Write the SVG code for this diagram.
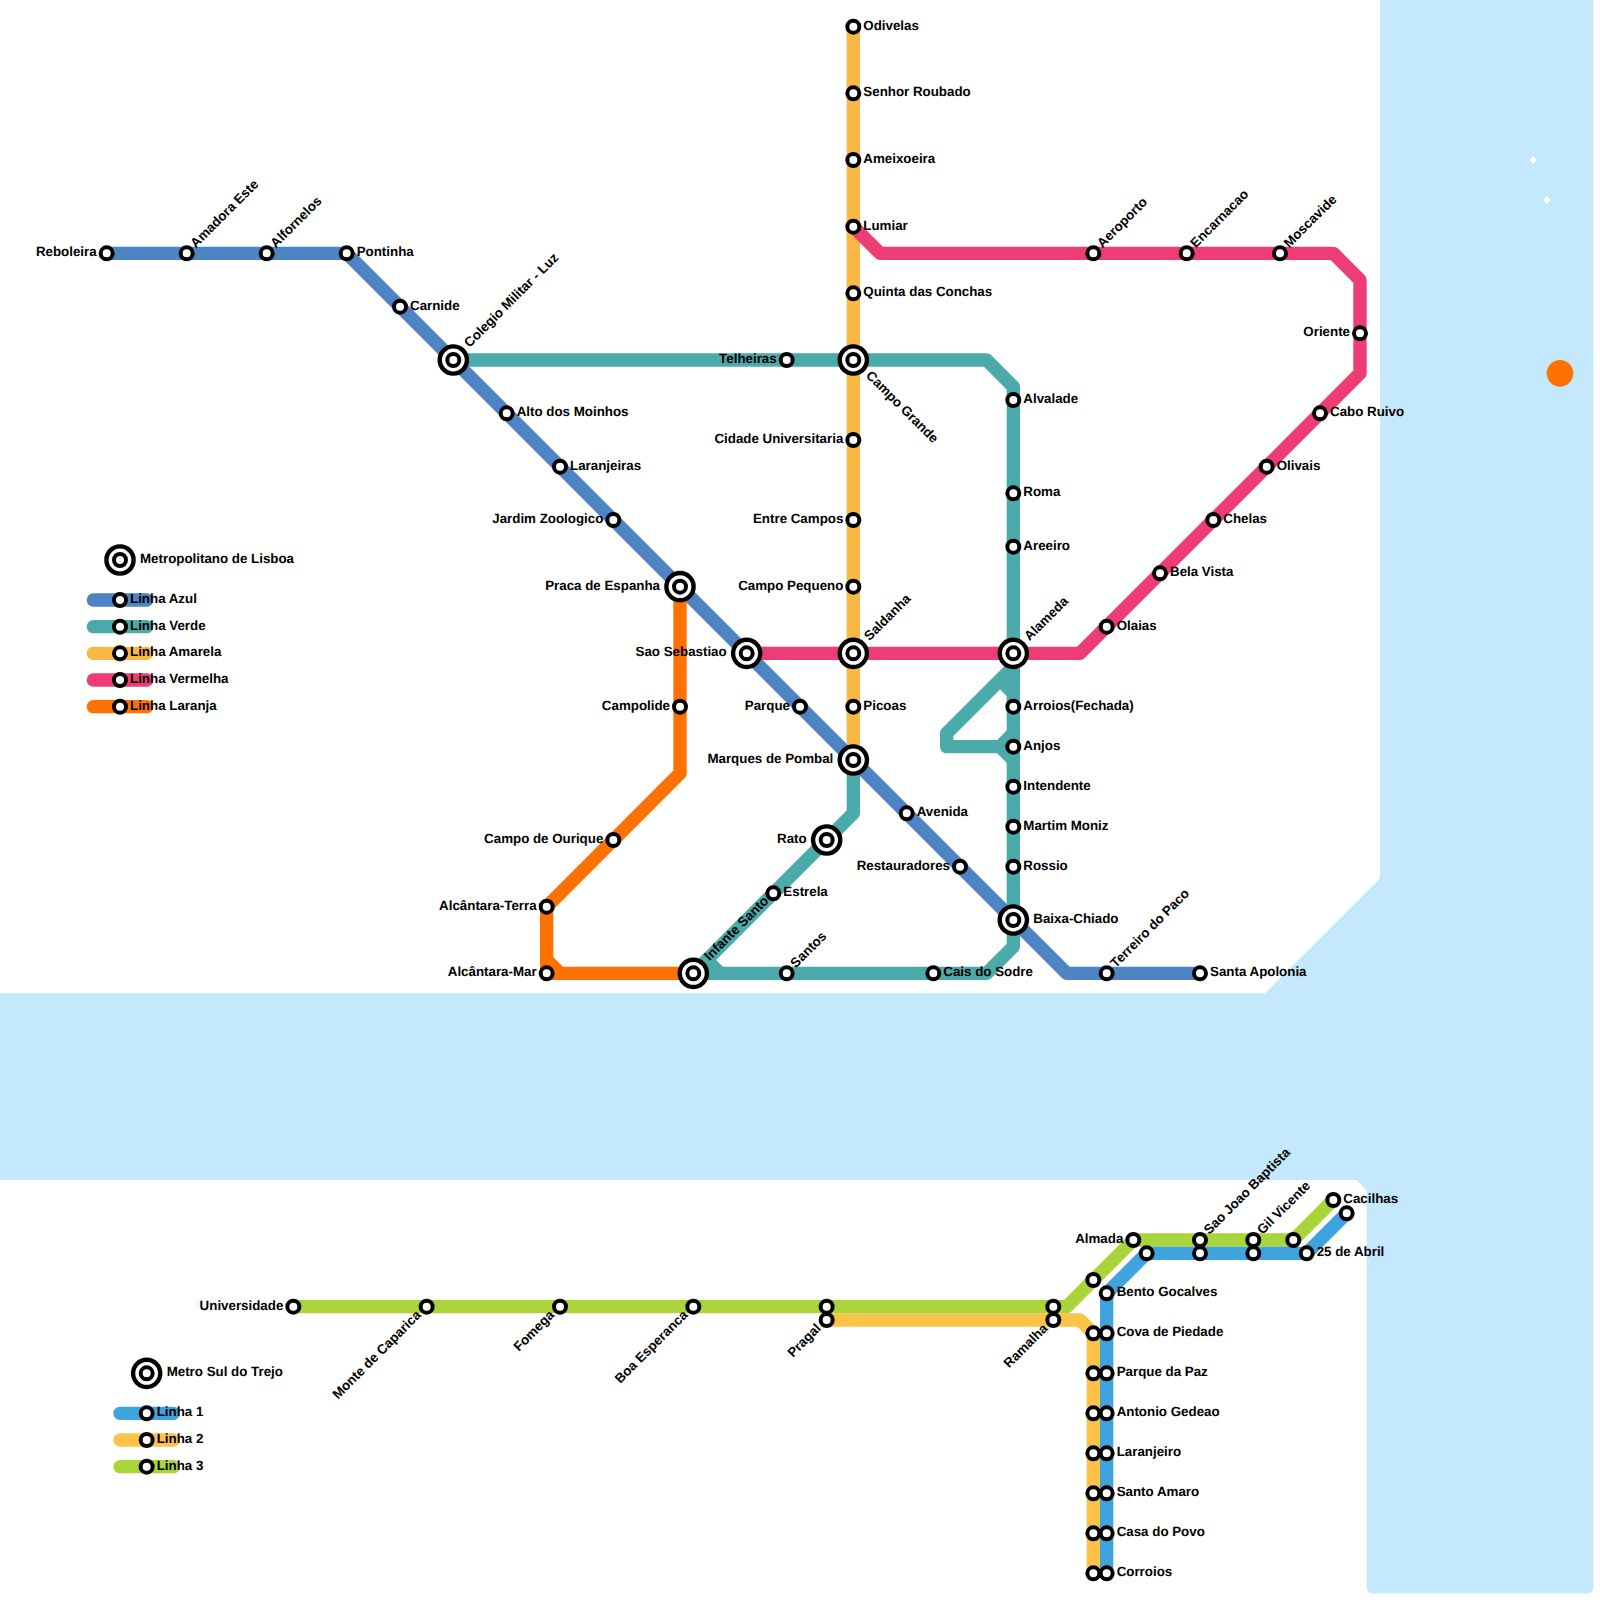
<svg xmlns="http://www.w3.org/2000/svg" width="1600" height="1600" viewBox="0 0 1600 1600">
<style>
text{font-family:"Liberation Sans",Arial,sans-serif;font-weight:700;font-size:13.33px;fill:#000;text-rendering:geometricPrecision}
.e{text-anchor:end}
.ln{fill:none;stroke-width:1;stroke-linecap:round;stroke-linejoin:round}
.lg{fill:none;stroke-width:13.33;stroke-linecap:round}
.r{fill:#fff;stroke:#000;stroke-width:4}
.R{fill:#fff;stroke:#000;stroke-width:4.4}
</style>
<defs>
<g id="st"><circle class="r" r="6"/></g>
<g id="ix"><circle class="R" r="13.6"/><circle class="r" r="6"/></g>
</defs>
<rect width="1600" height="1600" fill="#fff"/>
<g id="water">
<path d="M1380 0H1593.33V1586.67Q1593.33 1593.33 1586.67 1593.33H1373.33Q1366.67 1593.33 1366.67 1586.67V1190L1356.67 1180H0V993.33H1265L1380 878.33Z" fill="#c4e8fc"/>
<polygon points="1533.33,156 1537.33,160 1533.33,164 1529.33,160" fill="#fff"/>
<polygon points="1546.67,196 1550.67,200 1546.67,204 1542.67,200" fill="#fff"/>
<circle cx="1560" cy="373.33" r="13.33" fill="#ff7100"/>
</g>
<g id="connectors">
<g transform="scale(13.33333)">
<g id="linha-verde" class="ln" stroke="#4babaa">
<path d="M34 27H74L76 29V71L74 73H54L53 72L62 63L64 61V57"/>
<path d="M53 72L52 73H54"/>
<path d="M76 50L71 55V56H75L76 55M75 51L76 52M75 56L76 57"/>
</g>
<path id="linha-amarela" class="ln" stroke="#f9b843" d="M64 2V57"/>
<path id="linha-azul" class="ln" stroke="#4e84c4" d="M8 19H26L80 73H90"/>
<path id="linha-vermelha" class="ln" stroke="#ee3d74" d="M56 49H81L102 28V21L100 19H66L64 17"/>
<path id="linha-laranja" class="ln" stroke="#ff7100" d="M51 44V58L41 68V73H52M41 72L42 73"/>
<path id="linha-2" class="ln" stroke="#fbc347" d="M62 99H81L82 100V118"/>
<path id="linha-3" class="ln" stroke="#a9d43a" d="M22 98H80L85 93H97L100 90"/>
<path id="linha-1" class="ln" stroke="#3fa3e0" d="M83 118V97L86 94H98L101 91"/>
</g>
</g>
<g id="legend-lisboa">
<path class="lg" stroke="#4e84c4" d="M93.33 600H146.67"/>
<path class="lg" stroke="#4babaa" d="M93.33 626.67H146.67"/>
<path class="lg" stroke="#f9b843" d="M93.33 653.33H146.67"/>
<path class="lg" stroke="#ee3d74" d="M93.33 680H146.67"/>
<path class="lg" stroke="#ff7100" d="M93.33 706.67H146.67"/>
<g transform="translate(120,560)"><use href="#ix"/><text x="20" y="3">Metropolitano de Lisboa</text></g>
<g transform="translate(120,600)"><use href="#st"/><text x="10" y="3">Linha Azul</text></g>
<g transform="translate(120,626.67)"><use href="#st"/><text x="10" y="3">Linha Verde</text></g>
<g transform="translate(120,653.33)"><use href="#st"/><text x="10" y="3">Linha Amarela</text></g>
<g transform="translate(120,680)"><use href="#st"/><text x="10" y="3">Linha Vermelha</text></g>
<g transform="translate(120,706.67)"><use href="#st"/><text x="10" y="3">Linha Laranja</text></g>
</g>
<g id="legend-sul">
<path class="lg" stroke="#3fa3e0" d="M120 1413.33H173.33"/>
<path class="lg" stroke="#fbc347" d="M120 1440H173.33"/>
<path class="lg" stroke="#a9d43a" d="M120 1466.67H173.33"/>
<g transform="translate(146.67,1373.33)"><use href="#ix"/><text x="20" y="3">Metro Sul do Trejo</text></g>
<g transform="translate(146.67,1413.33)"><use href="#st"/><text x="10" y="3">Linha 1</text></g>
<g transform="translate(146.67,1440)"><use href="#st"/><text x="10" y="3">Linha 2</text></g>
<g transform="translate(146.67,1466.67)"><use href="#st"/><text x="10" y="3">Linha 3</text></g>
</g>
<g id="nodes">
<g id="reboleira" transform="translate(106.67,253.33)"><use href="#st"/><text class="e" x="-10" y="3">Reboleira</text></g>
<g id="amadora-este" transform="translate(186.67,253.33)"><use href="#st"/><text transform="rotate(-45)" x="10" y="3">Amadora Este</text></g>
<g id="alfornelos" transform="translate(266.67,253.33)"><use href="#st"/><text transform="rotate(-45)" x="10" y="3">Alfornelos</text></g>
<g id="pontinha" transform="translate(346.67,253.33)"><use href="#st"/><text x="10" y="3">Pontinha</text></g>
<g id="carnide" transform="translate(400,306.67)"><use href="#st"/><text x="10" y="3">Carnide</text></g>
<g id="colegio-militar" transform="translate(453.33,360)"><use href="#ix"/><text transform="rotate(-45)" x="20" y="3">Colegio Militar - Luz</text></g>
<g id="alto-dos-moinhos" transform="translate(506.67,413.33)"><use href="#st"/><text x="10" y="3">Alto dos Moinhos</text></g>
<g id="laranjeiras" transform="translate(560,466.67)"><use href="#st"/><text x="10" y="3">Laranjeiras</text></g>
<g id="jardim-zoologico" transform="translate(613.33,520)"><use href="#st"/><text class="e" x="-10" y="3">Jardim Zoologico</text></g>
<g id="praca-de-espanha" transform="translate(680,586.67)"><use href="#ix"/><text class="e" x="-20" y="3">Praca de Espanha</text></g>
<g id="sao-sebastiao" transform="translate(746.67,653.33)"><use href="#ix"/><text class="e" x="-20" y="3">Sao Sebastiao</text></g>
<g id="parque" transform="translate(800,706.67)"><use href="#st"/><text class="e" x="-10" y="3">Parque</text></g>
<g id="marques-de-pombal" transform="translate(853.33,760)"><use href="#ix"/><text class="e" x="-20" y="3">Marques de Pombal</text></g>
<g id="avenida" transform="translate(906.67,813.33)"><use href="#st"/><text x="10" y="3">Avenida</text></g>
<g id="restauradores" transform="translate(960,866.67)"><use href="#st"/><text class="e" x="-10" y="3">Restauradores</text></g>
<g id="baixa-chiado" transform="translate(1013.33,920)"><use href="#ix"/><text x="20" y="3">Baixa-Chiado</text></g>
<g id="terreiro-do-paco" transform="translate(1106.67,973.33)"><use href="#st"/><text transform="rotate(-45)" x="10" y="3">Terreiro do Paco</text></g>
<g id="santa-apolonia" transform="translate(1200,973.33)"><use href="#st"/><text x="10" y="3">Santa Apolonia</text></g>
<g id="telheiras" transform="translate(786.67,360)"><use href="#st"/><text class="e" x="-10" y="3">Telheiras</text></g>
<g id="campo-grande" transform="translate(853.33,360)"><use href="#ix"/><text transform="rotate(45)" x="20" y="3">Campo Grande</text></g>
<g id="alvalade" transform="translate(1013.33,400)"><use href="#st"/><text x="10" y="3">Alvalade</text></g>
<g id="roma" transform="translate(1013.33,493.33)"><use href="#st"/><text x="10" y="3">Roma</text></g>
<g id="areeiro" transform="translate(1013.33,546.67)"><use href="#st"/><text x="10" y="3">Areeiro</text></g>
<g id="alameda" transform="translate(1013.33,653.33)"><use href="#ix"/><text transform="rotate(-45)" x="20" y="3">Alameda</text></g>
<g id="arroios" transform="translate(1013.33,706.67)"><use href="#st"/><text x="10" y="3">Arroios(Fechada)</text></g>
<g id="anjos" transform="translate(1013.33,746.67)"><use href="#st"/><text x="10" y="3">Anjos</text></g>
<g id="intendente" transform="translate(1013.33,786.67)"><use href="#st"/><text x="10" y="3">Intendente</text></g>
<g id="martim-moniz" transform="translate(1013.33,826.67)"><use href="#st"/><text x="10" y="3">Martim Moniz</text></g>
<g id="rossio" transform="translate(1013.33,866.67)"><use href="#st"/><text x="10" y="3">Rossio</text></g>
<g id="cais-do-sodre" transform="translate(933.33,973.33)"><use href="#st"/><text x="10" y="3">Cais do Sodre</text></g>
<g id="santos" transform="translate(786.67,973.33)"><use href="#st"/><text transform="rotate(-45)" x="10" y="3">Santos</text></g>
<g id="infante-santo" transform="translate(693.33,973.33)"><use href="#ix"/><text transform="rotate(-45)" x="20" y="3">Infante Santo</text></g>
<g id="estrela" transform="translate(773.33,893.33)"><use href="#st"/><text x="10" y="3">Estrela</text></g>
<g id="rato" transform="translate(826.67,840)"><use href="#ix"/><text class="e" x="-20" y="3">Rato</text></g>
<g id="odivelas" transform="translate(853.33,26.67)"><use href="#st"/><text x="10" y="3">Odivelas</text></g>
<g id="senhor-roubado" transform="translate(853.33,93.33)"><use href="#st"/><text x="10" y="3">Senhor Roubado</text></g>
<g id="ameixoeira" transform="translate(853.33,160)"><use href="#st"/><text x="10" y="3">Ameixoeira</text></g>
<g id="lumiar" transform="translate(853.33,226.67)"><use href="#st"/><text x="10" y="3">Lumiar</text></g>
<g id="quinta-das-conchas" transform="translate(853.33,293.33)"><use href="#st"/><text x="10" y="3">Quinta das Conchas</text></g>
<g id="cidade-universitaria" transform="translate(853.33,440)"><use href="#st"/><text class="e" x="-10" y="3">Cidade Universitaria</text></g>
<g id="entre-campos" transform="translate(853.33,520)"><use href="#st"/><text class="e" x="-10" y="3">Entre Campos</text></g>
<g id="campo-pequeno" transform="translate(853.33,586.67)"><use href="#st"/><text class="e" x="-10" y="3">Campo Pequeno</text></g>
<g id="saldanha" transform="translate(853.33,653.33)"><use href="#ix"/><text transform="rotate(-45)" x="20" y="3">Saldanha</text></g>
<g id="picoas" transform="translate(853.33,706.67)"><use href="#st"/><text x="10" y="3">Picoas</text></g>
<g id="olaias" transform="translate(1106.67,626.67)"><use href="#st"/><text x="10" y="3">Olaias</text></g>
<g id="bela-vista" transform="translate(1160,573.33)"><use href="#st"/><text x="10" y="3">Bela Vista</text></g>
<g id="chelas" transform="translate(1213.33,520)"><use href="#st"/><text x="10" y="3">Chelas</text></g>
<g id="olivais" transform="translate(1266.67,466.67)"><use href="#st"/><text x="10" y="3">Olivais</text></g>
<g id="cabo-ruivo" transform="translate(1320,413.33)"><use href="#st"/><text x="10" y="3">Cabo Ruivo</text></g>
<g id="oriente" transform="translate(1360,333.33)"><use href="#st"/><text class="e" x="-10" y="3">Oriente</text></g>
<g id="moscavide" transform="translate(1280,253.33)"><use href="#st"/><text transform="rotate(-45)" x="10" y="3">Moscavide</text></g>
<g id="encarnacao" transform="translate(1186.67,253.33)"><use href="#st"/><text transform="rotate(-45)" x="10" y="3">Encarnacao</text></g>
<g id="aeroporto" transform="translate(1093.33,253.33)"><use href="#st"/><text transform="rotate(-45)" x="10" y="3">Aeroporto</text></g>
<g id="campolide" transform="translate(680,706.67)"><use href="#st"/><text class="e" x="-10" y="3">Campolide</text></g>
<g id="campo-de-ourique" transform="translate(613.33,840)"><use href="#st"/><text class="e" x="-10" y="3">Campo de Ourique</text></g>
<g id="alcantara-terra" transform="translate(546.67,906.67)"><use href="#st"/><text class="e" x="-10" y="3">Alcântara-Terra</text></g>
<g id="alcantara-mar" transform="translate(546.67,973.33)"><use href="#st"/><text class="e" x="-10" y="3">Alcântara-Mar</text></g>
<g id="universidade" transform="translate(293.33,1306.67)"><use href="#st"/><text class="e" x="-10" y="3">Universidade</text></g>
<g id="monte-de-caparica" transform="translate(426.67,1306.67)"><use href="#st"/><text class="e" transform="rotate(-45)" x="-10" y="3">Monte de Caparica</text></g>
<g id="fomega" transform="translate(560,1306.67)"><use href="#st"/><text class="e" transform="rotate(-45)" x="-10" y="3">Fomega</text></g>
<g id="boa-esperanca" transform="translate(693.33,1306.67)"><use href="#st"/><text class="e" transform="rotate(-45)" x="-10" y="3">Boa Esperanca</text></g>
<g id="pragal-3" transform="translate(826.67,1306.67)"><use href="#st"/></g>
<g id="pragal" transform="translate(826.67,1320)"><use href="#st"/><text class="e" transform="rotate(-45)" x="-10" y="3">Pragal</text></g>
<g id="ramalha-3" transform="translate(1053.33,1306.67)"><use href="#st"/></g>
<g id="ramalha" transform="translate(1053.33,1320)"><use href="#st"/><text class="e" transform="rotate(-45)" x="-10" y="3">Ramalha</text></g>
<g id="l3-a" transform="translate(1093.33,1280)"><use href="#st"/></g>
<g id="almada" transform="translate(1133.33,1240)"><use href="#st"/><text class="e" x="-10" y="3">Almada</text></g>
<g id="sao-joao-baptista" transform="translate(1200,1240)"><use href="#st"/><text transform="rotate(-45)" x="10" y="3">Sao Joao Baptista</text></g>
<g id="gil-vicente" transform="translate(1253.33,1240)"><use href="#st"/><text transform="rotate(-45)" x="10" y="3">Gil Vicente</text></g>
<g id="l3-b" transform="translate(1293.33,1240)"><use href="#st"/></g>
<g id="cacilhas" transform="translate(1333.33,1200)"><use href="#st"/><text x="10" y="3">Cacilhas</text></g>
<g id="l1-a" transform="translate(1146.67,1253.33)"><use href="#st"/></g>
<g id="l1-b" transform="translate(1200,1253.33)"><use href="#st"/></g>
<g id="l1-c" transform="translate(1253.33,1253.33)"><use href="#st"/></g>
<g id="abril" transform="translate(1306.67,1253.33)"><use href="#st"/><text x="10" y="3">25 de Abril</text></g>
<g id="l1-d" transform="translate(1346.67,1213.33)"><use href="#st"/></g>
<g id="bento-gocalves" transform="translate(1106.67,1293.33)"><use href="#st"/><text x="10" y="3">Bento Gocalves</text></g>
<g id="cova-de-piedade" transform="translate(1106.67,1333.33)"><use href="#st"/><text x="10" y="3">Cova de Piedade</text></g>
<g id="parque-da-paz" transform="translate(1106.67,1373.33)"><use href="#st"/><text x="10" y="3">Parque da Paz</text></g>
<g id="antonio-gedeao" transform="translate(1106.67,1413.33)"><use href="#st"/><text x="10" y="3">Antonio Gedeao</text></g>
<g id="laranjeiro" transform="translate(1106.67,1453.33)"><use href="#st"/><text x="10" y="3">Laranjeiro</text></g>
<g id="santo-amaro" transform="translate(1106.67,1493.33)"><use href="#st"/><text x="10" y="3">Santo Amaro</text></g>
<g id="casa-do-povo" transform="translate(1106.67,1533.33)"><use href="#st"/><text x="10" y="3">Casa do Povo</text></g>
<g id="corroios" transform="translate(1106.67,1573.33)"><use href="#st"/><text x="10" y="3">Corroios</text></g>
<g id="l2-a" transform="translate(1093.33,1333.33)"><use href="#st"/></g>
<g id="l2-b" transform="translate(1093.33,1373.33)"><use href="#st"/></g>
<g id="l2-c" transform="translate(1093.33,1413.33)"><use href="#st"/></g>
<g id="l2-d" transform="translate(1093.33,1453.33)"><use href="#st"/></g>
<g id="l2-e" transform="translate(1093.33,1493.33)"><use href="#st"/></g>
<g id="l2-f" transform="translate(1093.33,1533.33)"><use href="#st"/></g>
<g id="l2-g" transform="translate(1093.33,1573.33)"><use href="#st"/></g>
</g>
</svg>
